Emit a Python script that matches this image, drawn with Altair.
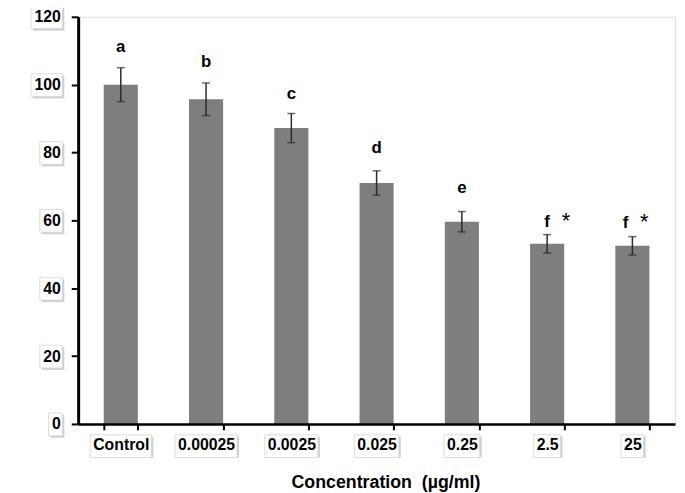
import altair as alt
import pandas as pd

categories = ["Control", "0.00025", "0.0025", "0.025", "0.25", "2.5", "25"]
viability = [100.0, 95.7, 87.2, 71.0, 59.6, 53.1, 52.5]
errors = [5.0, 4.8, 4.3, 3.6, 3.0, 2.7, 2.7]
letters = ["a", "b", "c", "d", "e", "f", "f"]
letter_pos = [111.2, 106.7, 97.3, 81.2, 69.6, 59.5, 59.1]
letter_shift = [0, 0, 0, 0, 0, 0, -7]
stars = ["", "", "", "", "", "*", "*"]
y_ticks = [0, 20, 40, 60, 80, 100, 120]

FONT = "Liberation Sans"
FS = 16
W, H = 604, 412

# approximate glyph widths (em) of Liberation Sans Bold, for the label boxes
GLYPH = {"C": 0.722, "o": 0.611, "n": 0.611, "t": 0.333, "r": 0.389, "l": 0.278, ".": 0.278}


def text_width(s):
    return sum(GLYPH.get(c, 0.556) for c in s) * FS


df = pd.DataFrame({
    "cat": categories,
    "v": viability,
    "lo": [v - e for v, e in zip(viability, errors)],
    "hi": [v + e for v, e in zip(viability, errors)],
    "letter": letters,
    "lp": letter_pos,
    "ls": letter_shift,
    "star": stars,
    "bw": [text_width(c) + 5 for c in categories],
})

dfy = pd.DataFrame({"t": y_ticks, "n": [len(str(t)) for t in y_ticks]})

y_scale = alt.Scale(domain=[0, 120])
xs = alt.X("cat:N", sort=categories)

x = alt.X("cat:N", sort=categories,
          scale=alt.Scale(paddingInner=0.6, paddingOuter=0.3),
          axis=alt.Axis(title="Concentration \u00a0(µg/ml)", labelAngle=0, zindex=2,
                        tickBand="extent", domainWidth=2.5, tickWidth=2,
                        tickSize=6, domainColor="black", tickColor="black",
                        labelFont=FONT, labelFontSize=FS, labelFontWeight="bold",
                        labelColor="black", labelPadding=15, labelBaseline="middle",
                        labelAlign="center",
                        titleFont=FONT, titleFontSize=18, titleFontWeight="bold",
                        titleColor="black", titleX=311, titleY=64,
                        titleBaseline="alphabetic", titleAlign="center"))

bars = alt.Chart(df).mark_bar(color="#7e7e81").encode(
    x=x,
    y=alt.Y("v:Q", scale=y_scale,
            axis=alt.Axis(title="Cell Viability (%)", values=y_ticks, zindex=2,
                          grid=False, domainWidth=3, tickWidth=2, tickSize=7,
                          domainColor="black", tickColor="black",
                          labelFont=FONT, labelFontSize=FS, labelFontWeight="bold",
                          labelColor="black", labelPadding=11,
                          titleFont=FONT, titleFontSize=18, titleFontWeight="bold",
                          titleColor="black", titleX=-68, titleY=H / 2,
                          titleAngle=-90, titleBaseline="middle", titleAlign="center")),
)

# label boxes on the x axis (shadow + box)
xbox_shadow = alt.Chart(df).mark_bar(color="#c4c4c4", xOffset=2, yOffset=2, opacity=0.8).encode(
    x=xs, size=alt.Size("bw:Q", scale=None),
    y=alt.value(H + 11), y2=alt.value(H + 34),
)
xbox = alt.Chart(df).mark_bar(color="white", stroke="#d4d4d4", strokeWidth=0.8).encode(
    x=xs, size=alt.Size("bw:Q", scale=None),
    y=alt.value(H + 11), y2=alt.value(H + 34),
)

# label boxes on the y axis, grouped by label length
ybox_layers = []
for n in sorted(set(dfy["n"])):
    w = n * 0.556 * FS + 5
    base = alt.Chart(dfy).transform_filter(alt.datum.n == n)
    ybox_layers.append(base.mark_rect(color="#c4c4c4", opacity=0.8, yOffset=-9, y2Offset=14,
                                      xOffset=2, x2Offset=2).encode(
        y=alt.Y("t:Q", scale=y_scale), y2="t:Q",
        x=alt.value(-16 - w), x2=alt.value(-16)))
    ybox_layers.append(base.mark_rect(color="white", stroke="#d4d4d4", strokeWidth=0.8,
                                      yOffset=-11, y2Offset=12).encode(
        y=alt.Y("t:Q", scale=y_scale), y2="t:Q",
        x=alt.value(-16 - w), x2=alt.value(-16)))

err = alt.Chart(df).mark_errorbar(ticks=alt.MarkConfig(size=8), color="#2a2a2a", thickness=1.5).encode(
    x=xs,
    y=alt.Y("lo:Q", scale=y_scale, title=None),
    y2="hi:Q",
)

text_layers = []
for s in sorted(set(letter_shift)):
    base = alt.Chart(df).transform_filter(alt.datum.ls == s)
    text_layers.append(base.mark_text(font=FONT, fontSize=17, fontWeight="bold", color="black",
                                      dx=s).encode(
        x=xs, y=alt.Y("lp:Q", scale=y_scale), text="letter:N"))
    text_layers.append(base.mark_text(font=FONT, fontSize=22, fontWeight="normal", color="black",
                                      dx=s + 19, dy=-1).encode(
        x=xs, y=alt.Y("lp:Q", scale=y_scale), text="star:N"))

chart = alt.layer(xbox_shadow, xbox, *ybox_layers, bars, err, *text_layers).properties(
    width=W, height=H,
    autosize=alt.AutoSizeParams(type="none"),
    padding={"left": 71, "top": 6, "right": 2, "bottom": 67},
).configure_view(stroke=None).configure_axis(grid=False).configure(background="white")

chart.save("out.html", embed_options={"renderer": "svg", "actions": False})
